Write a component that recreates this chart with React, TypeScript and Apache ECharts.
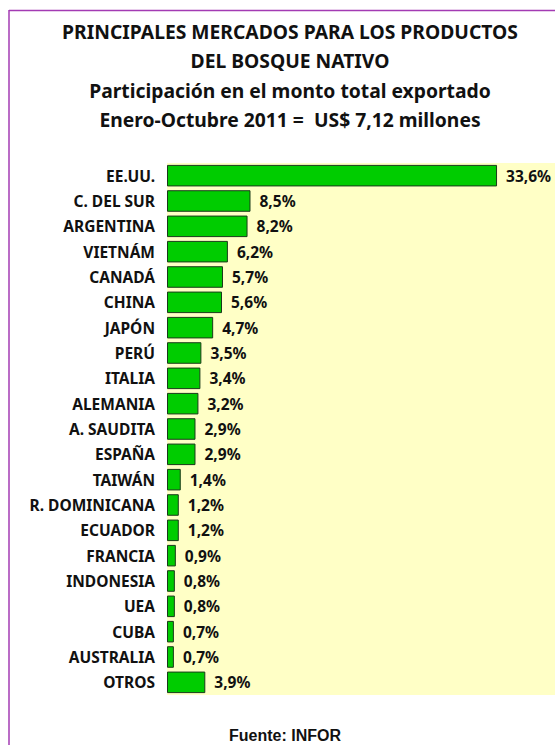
import React, { useEffect, useRef } from "react";
import * as echarts from "echarts";

const categories = [
  "EE.UU.", "C. DEL SUR", "ARGENTINA", "VIETNÁM", "CANADÁ", "CHINA", "JAPÓN",
  "PERÚ", "ITALIA", "ALEMANIA", "A. SAUDITA", "ESPAÑA", "TAIWÁN",
  "R. DOMINICANA", "ECUADOR", "FRANCIA", "INDONESIA", "UEA", "CUBA",
  "AUSTRALIA", "OTROS",
];
const shares = [
  33.6, 8.5, 8.2, 6.2, 5.7, 5.6, 4.7, 3.5, 3.4, 3.2, 2.9, 2.9, 1.4, 1.2, 1.2,
  0.9, 0.8, 0.8, 0.7, 0.7, 3.9,
];
const titleLines = [
  "PRINCIPALES MERCADOS PARA LOS PRODUCTOS",
  "DEL BOSQUE NATIVO",
  "Participación en el monto total exportado",
  "Enero-Octubre 2011 =  US$ 7,12 millones",
];
const sourceText = "Fuente: INFOR";

const FONT = "'Noto Sans'";

export default function App() {
  const ref = useRef<HTMLDivElement>(null);
  useEffect(() => {
    if (!ref.current) return;
    const chart = echarts.init(ref.current, null, { renderer: "svg" });
    const titleCenters = [31, 60, 90, 119];
    chart.setOption({
      animation: false,
      backgroundColor: "#ffffff",
      grid: { left: 167, right: 0, top: 163, bottom: 50, containLabel: false, show: true, backgroundColor: "#ffffc6", borderWidth: 0 },
      xAxis: {
        type: "value",
        min: 0,
        max: 39.5,
        show: false,
      },
      yAxis: {
        type: "category",
        data: categories,
        inverse: true,
        axisLine: { show: false },
        axisTick: { show: false },
        axisLabel: {
          margin: 12,
          fontFamily: FONT,
          fontWeight: "bold",
          fontSize: 15.5,
          color: "#111111",
        },
      },
      series: [
        {
          type: "bar",
          data: shares,
          barCategoryGap: "15%",
          itemStyle: { color: "#00cc00", borderColor: "#1a3a1a", borderWidth: 1 },
          label: {
            show: true,
            position: "right",
            distance: 9,
            fontFamily: FONT,
            fontWeight: "bold",
            fontSize: 15.5,
            color: "#111111",
            formatter: (p: any) => p.value.toFixed(1).replace(".", ",") + "%",
          },
        },
      ],
      graphic: [
        { type: "line", shape: { x1: 9, y1: 10.5, x2: 555, y2: 10.5 }, style: { stroke: "#a33bb3", lineWidth: 1.5 } },
        { type: "line", shape: { x1: 9, y1: 10, x2: 9, y2: 745 }, style: { stroke: "#a33bb3", lineWidth: 1.5 } },
        ...titleLines.map((t, i) => ({
          type: "text",
          x: 290,
          y: titleCenters[i],
          style: {
            text: t,
            fill: "#111111",
            font: `bold 19.3px ${FONT}`,
            textAlign: "center",
            textVerticalAlign: "middle",
          },
        })),
        {
          type: "text",
          x: 285,
          y: 735,
          style: {
            text: sourceText,
            fill: "#111111",
            font: "bold 16px 'Liberation Sans'",
            textAlign: "center",
            textVerticalAlign: "middle",
          },
        },
      ],
    });
    return () => chart.dispose();
  }, []);
  return <div ref={ref} style={{ width: 555, height: 745, position: "absolute", left: 0, top: 0 }} />;
}
